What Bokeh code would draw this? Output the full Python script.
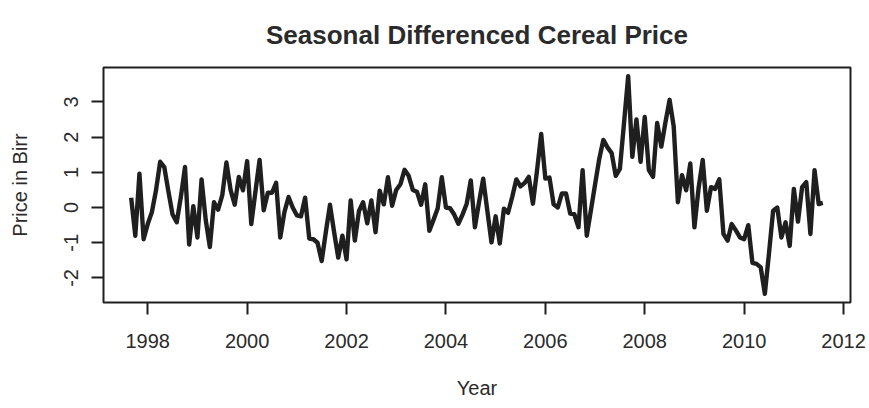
from bokeh.plotting import figure
from bokeh.models import Range1d, FixedTicker, ColumnDataSource
from bokeh.embed import file_html
from bokeh.resources import INLINE

# Seasonal differenced cereal price (monthly, Sep 1997 - Aug 2011)
start_year = 1997
start_month = 9
y1997 = [0.28, -0.80, 0.96, -0.90]
y1998 = [-0.47, -0.13, 0.49, 1.30, 1.15, 0.45, -0.20, -0.42, 0.30, 1.15, -1.05, 0.04]
y1999 = [-0.85, 0.80, -0.35, -1.12, 0.15, -0.06, 0.35, 1.28, 0.50, 0.08, 0.87, 0.49]
y2000 = [1.32, -0.47, 0.45, 1.35, -0.08, 0.42, 0.42, 0.70, -0.85, -0.13, 0.30, 0.00]
y2001 = [-0.22, -0.25, 0.28, -0.88, -0.90, -1.00, -1.52, -0.70, 0.08, -0.70, -1.42, -0.80]
y2002 = [-1.47, 0.20, -0.94, -0.10, 0.15, -0.45, 0.20, -0.70, 0.48, 0.09, 0.86, 0.05]
y2003 = [0.50, 0.66, 1.07, 0.90, 0.50, 0.45, 0.08, 0.66, -0.66, -0.35, -0.03, 0.86]
y2004 = [0.00, -0.02, -0.20, -0.46, -0.20, 0.10, 0.77, -0.56, 0.16, 0.82, -0.10, -0.99]
y2005 = [-0.25, -1.02, -0.03, -0.15, 0.30, 0.80, 0.60, 0.70, 0.87, 0.11, 1.06, 2.09]
y2006 = [0.82, 0.85, 0.09, 0.00, 0.40, 0.40, -0.17, -0.19, -0.56, 1.06, -0.80, -0.08]
y2007 = [0.65, 1.37, 1.92, 1.71, 1.55, 0.90, 1.10, 2.40, 3.73, 1.44, 2.50, 1.30]
y2008 = [2.57, 1.06, 0.87, 2.40, 1.73, 2.42, 3.06, 2.30, 0.15, 0.92, 0.49, 1.25]
y2009 = [-0.56, 0.55, 1.35, -0.09, 0.58, 0.53, 0.80, -0.75, -0.94, -0.47, -0.65, -0.85]
y2010 = [-0.90, -0.50, -1.57, -1.60, -1.70, -2.45, -1.30, -0.09, 0.00, -0.85, -0.42, -1.09]
y2011 = [0.53, -0.40, 0.58, 0.72, -0.75, 1.06, 0.10, 0.13]

x_ticks = [1998, 2000, 2002, 2004, 2006, 2008, 2010, 2012]
y_ticks = [-2, -1, 0, 1, 2, 3]
title_text = "Seasonal Differenced Cereal Price"

values = (y1997 + y1998 + y1999 + y2000 + y2001 + y2002 + y2003 + y2004 +
          y2005 + y2006 + y2007 + y2008 + y2009 + y2010 + y2011)
times = [start_year + (start_month - 1 + k) / 12.0 for k in range(len(values))]

def padded(lo, hi, f=0.04):
    d = (hi - lo) * f
    return lo - d, hi + d

xlo, xhi = padded(min(times), max(times))
ylo, yhi = padded(min(values), max(values))

INK = "#1f1f1f"
TXT = "#2b2b2b"
FONT = "Liberation Sans"

p = figure(width=869, height=408, output_backend="svg", toolbar_location=None,
           x_range=Range1d(xlo, xhi), y_range=Range1d(ylo, yhi),
           min_border_left=103, min_border_right=19, min_border_top=67,
           min_border_bottom=106)

src = ColumnDataSource(dict(t=times, v=values))
p.line("t", "v", source=src, line_color=INK, line_width=4.4, line_join="round")

p.xgrid.visible = False
p.ygrid.visible = False
p.background_fill_color = "white"
p.border_fill_color = "white"
p.outline_line_color = INK
p.outline_line_width = 2
p.outline_line_alpha = 1

p.xaxis.ticker = FixedTicker(ticks=x_ticks)
p.yaxis.ticker = FixedTicker(ticks=y_ticks)
p.yaxis.major_label_overrides = {t: str(t) for t in y_ticks}

for ax in (p.xaxis[0], p.yaxis[0]):
    ax.axis_line_color = None
    ax.major_tick_line_color = INK
    ax.major_tick_line_width = 2
    ax.major_tick_out = 12
    ax.major_tick_in = 0
    ax.minor_tick_line_color = None
    ax.major_label_text_font = FONT
    ax.major_label_text_font_size = "20px"
    ax.major_label_text_color = TXT
    ax.axis_label_text_font = FONT
    ax.axis_label_text_font_size = "20px"
    ax.axis_label_text_font_style = "normal"
    ax.axis_label_text_color = TXT

p.xaxis.axis_label = "Year"
p.xaxis.major_label_standoff = 19
p.xaxis.axis_label_standoff = 26

p.yaxis.axis_label = "Price in Birr"
p.yaxis.major_label_orientation = "vertical"
p.yaxis.major_label_standoff = 13
p.yaxis.axis_label_standoff = 31

p.title.text = title_text
p.title.align = "center"
p.title.vertical_align = "bottom"
p.title.text_font = FONT
p.title.text_font_size = "26px"
p.title.text_font_style = "bold"
p.title.text_color = TXT
p.title.standoff = 35

open("out.html", "w").write(file_html(p, INLINE))
